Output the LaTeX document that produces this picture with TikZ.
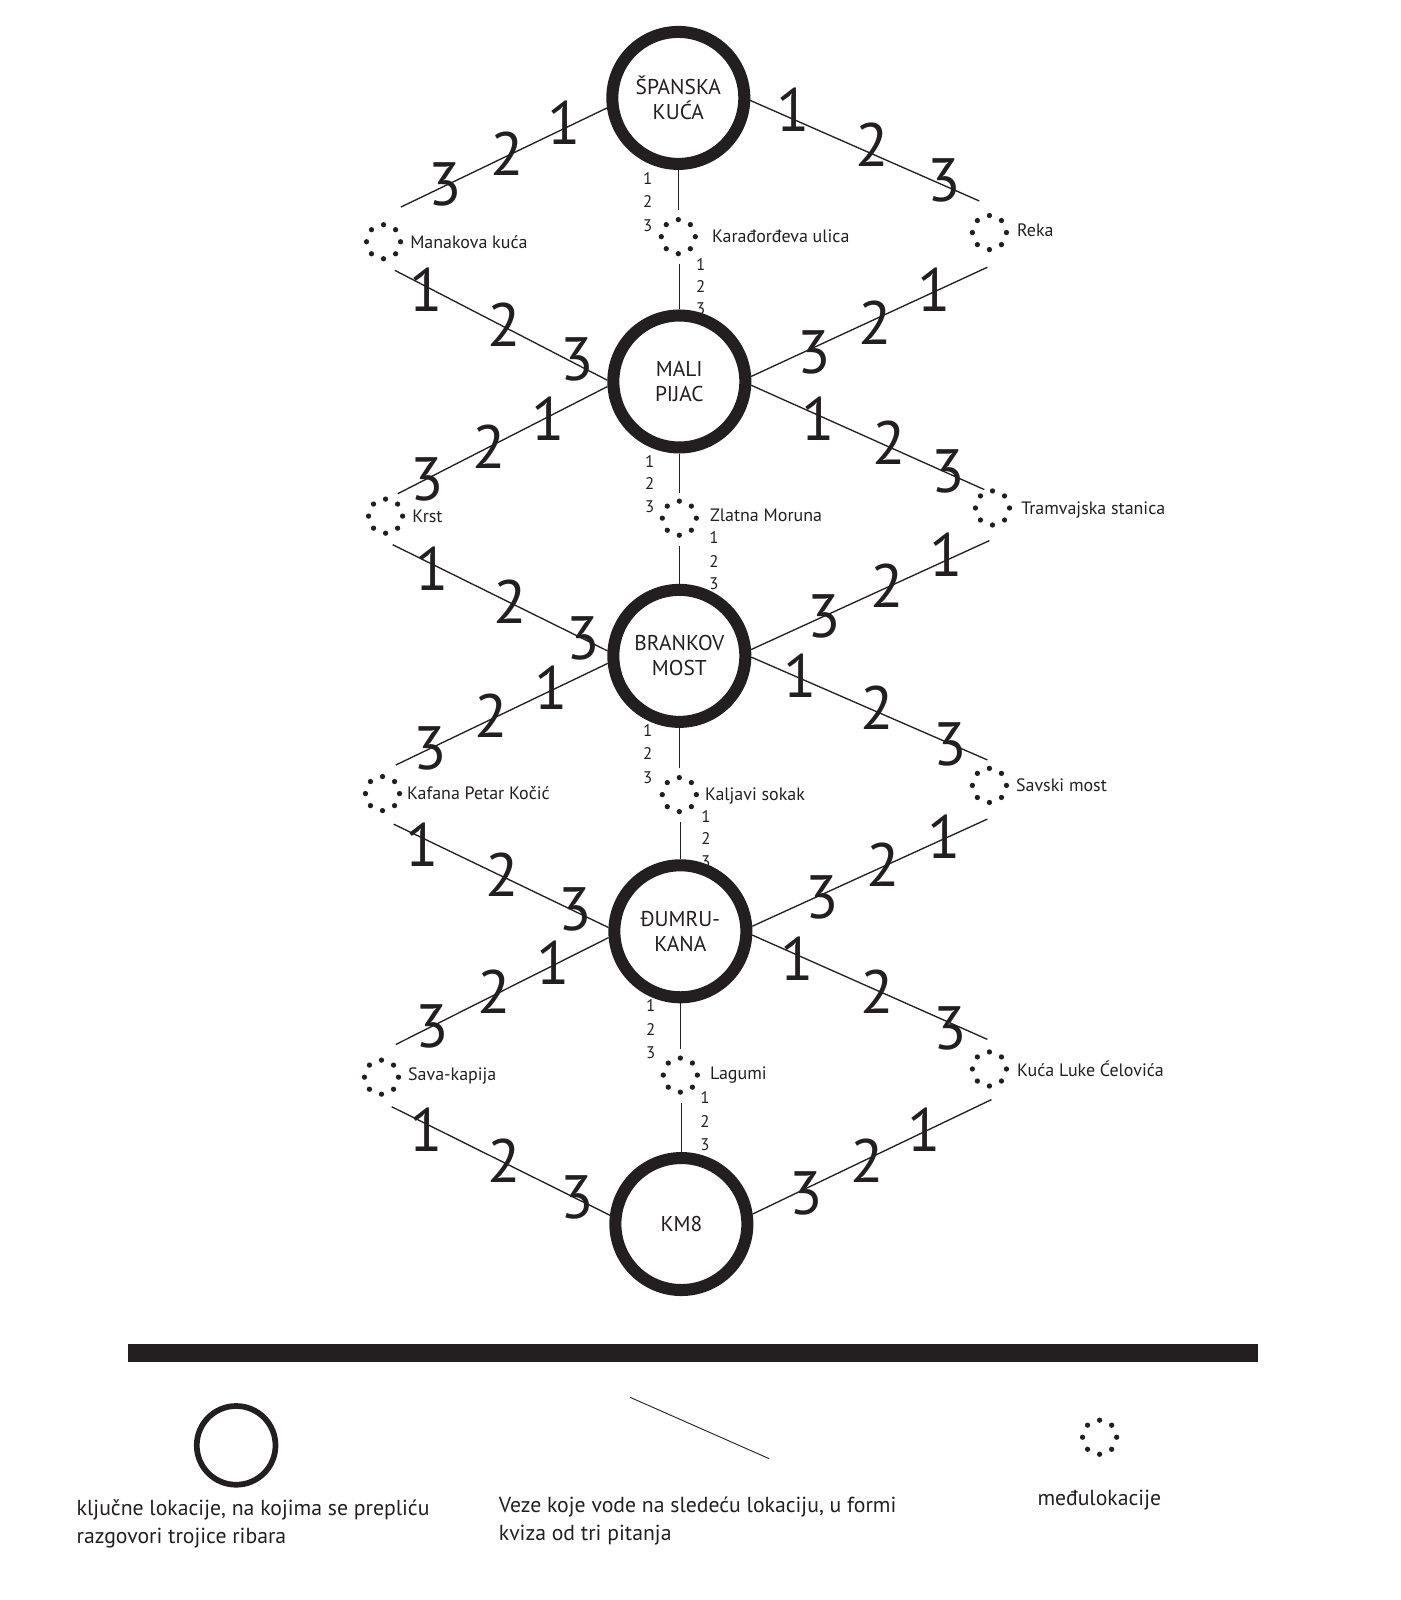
\documentclass[tikz,border=0pt]{standalone}
\usepackage{fontspec}
\setmainfont{PT Sans}
\usetikzlibrary{backgrounds}
\definecolor{ink}{HTML}{231F20}
\newcommand\dotring[1]{\foreach \a in {0,45,...,315} {\fill[ink] (#1) ++(\a:16.7) circle (2.6);}}
\begin{document}
\begin{tikzpicture}[x=1pt,y=-1pt,
  key/.style={circle, draw=ink, line width=11.8pt, minimum size=129.4pt, inner sep=0pt, fill=white, align=center, text=ink, font=\fontsize{21}{24.5}\selectfont},
  mid/.style={circle, minimum size=33.4pt, inner sep=0pt},
  lab/.style={anchor=west, inner sep=0pt, text=ink, font=\fontsize{17.6}{17.6}\selectfont},
  conn/.style={draw=ink, line width=1.3pt},
  big/.style={inner sep=0pt, text=ink, font=\fontsize{60}{60}\selectfont},
  sml/.style={inner sep=0pt, text=ink, font=\fontsize{16.5}{16.5}\selectfont},
  leg/.style={anchor=west, inner sep=0pt, text=ink, align=left, font=\fontsize{21.3}{27}\selectfont}]
\useasboundingbox (0,0) rectangle (1373.5,1568.6);

% key locations
\node[key] (sk) at (665,96) {ŠPANSKA\\KUĆA};
\node[key] (mp) at (666,374) {MALI\\PIJAC};
\node[key] (bm) at (666,643) {BRANKOV\\MOST};
\node[key] (dk) at (667,913) {ĐUMRU-\\KANA};
\node[key] (km) at (668,1200) {KM8};

% intermediate locations
\node[mid] (man) at (376,237) {}; \dotring{man}
\node[mid] (kar) at (665,232) {}; \dotring{kar}
\node[mid] (rek) at (970,228) {}; \dotring{rek}
\node[mid] (krs) at (378,506) {}; \dotring{krs}
\node[mid] (zla) at (666,508) {}; \dotring{zla}
\node[mid] (tra) at (973,498) {}; \dotring{tra}
\node[mid] (kaf) at (375,778) {}; \dotring{kaf}
\node[mid] (kal) at (666,779) {}; \dotring{kal}
\node[mid] (sav) at (970,770) {}; \dotring{sav}
\node[mid] (sak) at (374,1056) {}; \dotring{sak}
\node[mid] (lag) at (667,1054) {}; \dotring{lag}
\node[mid] (kuc) at (970,1048) {}; \dotring{kuc}

\node[lab] at (402,237) {Manakova kuća};
\node[lab] at (698,232) {Karađorđeva ulica};
\node[lab] at (997,226) {Reka};
\node[lab] at (404,506) {Krst};
\node[lab] at (696,505) {Zlatna Moruna};
\node[lab] at (1001,500) {Tramvajska stanica};
\node[lab] at (399,777) {Kafana Petar Kočić};
\node[lab] at (691,780) {Kaljavi sokak};
\node[lab] at (996,770) {Savski most};
\node[lab] at (400,1055) {Sava-kapija};
\node[lab] at (696,1054) {Lagumi};
\node[lab] at (997,1048) {Kuća Luke Ćelovića};

% free ends of connectors
\coordinate (e1) at (393,203);
\coordinate (e2) at (960,197);
\coordinate (e4) at (387,265);
\coordinate (e5) at (968,262);
\coordinate (e6) at (390,484);
\coordinate (e7) at (965,480);
\coordinate (e9) at (385,534);
\coordinate (e10) at (970,530);
\coordinate (e11) at (388,750);
\coordinate (e12) at (968,745);
\coordinate (e14) at (386,808);
\coordinate (e15) at (968,803);
\coordinate (e16) at (388,1024);
\coordinate (e17) at (968,1019);
\coordinate (e19) at (384,1085);
\coordinate (e20) at (972,1078);
\coordinate (v1a) at (665,206); \coordinate (v1b) at (666,259);
\coordinate (v2a) at (666,483); \coordinate (v2b) at (666,535);
\coordinate (v3a) at (666,753); \coordinate (v3b) at (667,806);
\coordinate (v4a) at (667,1028); \coordinate (v4b) at (668,1081);

\begin{scope}[on background layer]
\draw[conn] (sk.188) -- (e1);
\draw[conn] (sk.358) -- (e2);
\draw[conn] (e4) -- (mp.179);
\draw[conn] (e5) -- (mp.4);
\draw[conn] (mp.184) -- (e6);
\draw[conn] (mp.357.5) -- (e7);
\draw[conn] (e9) -- (bm.176);
\draw[conn] (e10) -- (bm.5);
\draw[conn] (bm.186.5) -- (e11);
\draw[conn] (bm.359) -- (e12);
\draw[conn] (e14) -- (dk.177);
\draw[conn] (e15) -- (dk.4);
\draw[conn] (dk.185) -- (e16);
\draw[conn] (dk.357) -- (e17);
\draw[conn] (e19) -- (km.173.4);
\draw[conn] (e20) -- (km.8);
\draw[conn] (sk.south) -- (v1a);
\draw[conn] (v1b) -- (mp.north);
\draw[conn] (mp.south) -- (v2a);
\draw[conn] (v2b) -- (bm.north);
\draw[conn] (bm.south) -- (v3a);
\draw[conn] (v3b) -- (dk.north);
\draw[conn] (dk.south) -- (v4a);
\draw[conn] (v4b) -- (km.north);

% big quiz numbers
\node[big] at (553,120) {1}; \node[big] at (497,151) {2}; \node[big] at (436,181) {3};
\node[big] at (778,108) {1}; \node[big] at (855,142) {2}; \node[big] at (926,177) {3};
\node[big] at (418,284) {1}; \node[big] at (494,318) {2}; \node[big] at (566,352) {3};
\node[big] at (916,284) {1}; \node[big] at (858,316) {2}; \node[big] at (798,346) {3};
\node[big] at (537,410) {1}; \node[big] at (480,438) {2}; \node[big] at (419,470) {3};
\node[big] at (802,410) {1}; \node[big] at (872,434) {2}; \node[big] at (930,462) {3};
\node[big] at (424,558) {1}; \node[big] at (500,590) {2}; \node[big] at (572,626) {3};
\node[big] at (928,544) {1}; \node[big] at (870,574) {2}; \node[big] at (808,604) {3};
\node[big] at (540,674) {1}; \node[big] at (482,702) {2}; \node[big] at (422,734) {3};
\node[big] at (784,662) {1}; \node[big] at (860,694) {2}; \node[big] at (932,730) {3};
\node[big] at (414,828) {1}; \node[big] at (492,858) {2}; \node[big] at (564,892) {3};
\node[big] at (926,820) {1}; \node[big] at (866,848) {2}; \node[big] at (806,880) {3};
\node[big] at (542,944) {1}; \node[big] at (484,972) {2}; \node[big] at (424,1006) {3};
\node[big] at (782,940) {1}; \node[big] at (860,972) {2}; \node[big] at (932,1008) {3};
\node[big] at (418,1108) {1}; \node[big] at (494,1138) {2}; \node[big] at (566,1174) {3};
\node[big] at (906,1108) {1}; \node[big] at (850,1138) {2}; \node[big] at (790,1170) {3};

% small quiz numbers on vertical links
\node[sml] at (635,175) {1}; \node[sml] at (635,198) {2}; \node[sml] at (635,221) {3};
\node[sml] at (687,259) {1}; \node[sml] at (687,281) {2}; \node[sml] at (687,303) {3};
\node[sml] at (637,452) {1}; \node[sml] at (637,474) {2}; \node[sml] at (637,497) {3};
\node[sml] at (700,527) {1}; \node[sml] at (700,550) {2}; \node[sml] at (700,572) {3};
\node[sml] at (635,716) {1}; \node[sml] at (635,739) {2}; \node[sml] at (635,762) {3};
\node[sml] at (692,800) {1}; \node[sml] at (692,822) {2}; \node[sml] at (692,845) {3};
\node[sml] at (638,986) {1}; \node[sml] at (638,1009) {2}; \node[sml] at (638,1032) {3};
\node[sml] at (691,1076) {1}; \node[sml] at (691,1099) {2}; \node[sml] at (691,1122) {3};
\end{scope}

% legend
\fill[ink] (125,1318) rectangle (1233,1335);
\node[circle, draw=ink, line width=5.6pt, minimum size=77.2pt, inner sep=0pt] (legkey) at (231.5,1417) {};
\coordinate (la) at (618,1370); \coordinate (lb) at (754,1430);
\draw[ink, line width=0.9pt] (la) -- (lb);
\node[mid] (legmid) at (1078,1409) {}; \dotring{legmid}
\node[leg] at (75,1494) {ključne lokacije, na kojima se prepliću\\razgovori trojice ribara};
\node[leg] at (489,1491) {Veze koje vode na sledeću lokaciju, u formi\\kviza od tri pitanja};
\node[leg] at (1017,1471) {međulokacije};
\end{tikzpicture}
\end{document}
